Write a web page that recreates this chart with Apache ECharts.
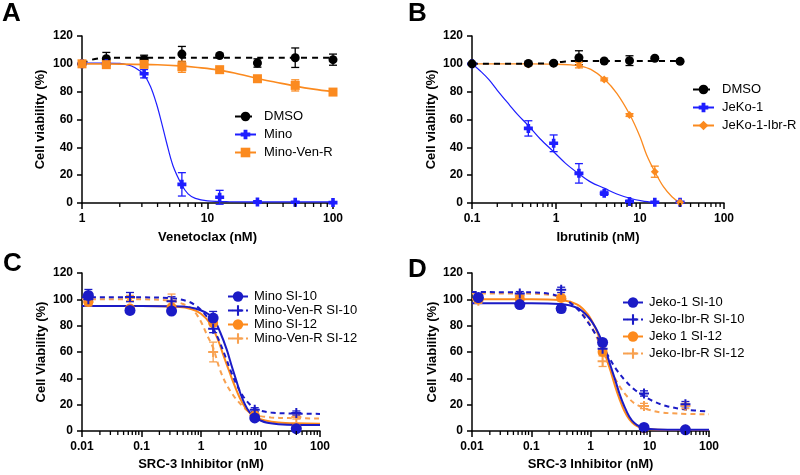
<!DOCTYPE html>
<html><head><meta charset="utf-8">
<script src="https://cdn.jsdelivr.net/npm/echarts@6/dist/echarts.min.js"></script>
<style>html,body{margin:0;padding:0;background:#fff}#c{width:800px;height:475px}</style>
</head><body><div id="c"></div>
<script>
const FONT = "'Liberation Sans', Arial, Helvetica, sans-serif";

// ---------- Panel A (Venetoclax) ----------
const concA = [1, 1.5625, 3.125, 6.25, 12.5, 25, 50, 100];
const dmsoA = [100, 103.7, 103.2, 107.0, 106.0, 100.6, 104.4, 103.0];
const dmsoAErr = [0, 4.5, 3.0, 5.5, 1.0, 3.0, 7.0, 4.0];
const minoA = [100, 100, 92.9, 13.4, 4.1, 0.7, 0.5, 0.3];
const minoAErr = [0, 0, 3.0, 8.4, 5.0, 1.0, 0.5, 0.5];
const minoVenRA = [100, 99.4, 99.6, 97.9, 95.8, 89.3, 84.5, 79.7];
const minoVenRAErr = [0, 1.0, 1.0, 4.0, 1.5, 2.0, 4.0, 1.5];
const dmsoFitAx = [1, 1.1, 1.2, 1.35, 1.5, 2, 3, 5, 10, 20, 50, 100];
const dmsoFitAy = [100, 101.8, 103, 103.9, 104.2, 104.3, 104.3, 104.3, 104.3, 104.3, 104.3, 104.3];
const minoFitAx = [1, 1.5, 2, 2.3, 2.6, 3.1, 3.5, 3.9, 4.3, 4.7, 5.3, 6.2, 7, 8, 10, 15, 25, 100];
const minoFitAy = [100.5, 100.5, 100.3, 99.3, 97.6, 92.5, 84, 72, 58, 44, 27, 13.5, 6.5, 3.3, 1.5, 0.9, 0.8, 0.8];
const minoVenRFitAx = [1, 2, 4, 6, 8, 12.5, 18, 25, 35, 50, 70, 100];
const minoVenRFitAy = [100, 99.8, 99.3, 98.5, 97.5, 95.5, 92.5, 89.5, 86.8, 84, 81.8, 80];

// ---------- Panel B (Ibrutinib) ----------
const concB = [0.1, 0.46875, 0.9375, 1.875, 3.75, 7.5, 15, 30];
const dmsoB = [100, 100.3, 100.5, 104.4, 102.0, 102.3, 104.0, 101.8];
const dmsoBErr = [0, 1.0, 1.0, 5.0, 1.0, 3.5, 1.0, 1.0];
const jeko1B = [100, 53.6, 42.9, 21.3, 7.0, 1.0, 0.5, 0.5];
const jeko1BErr = [0, 5.5, 6.0, 7.0, 1.5, 1.0, 0.5, 0.5];
const jekoIbrRB = [100, 99.5, 100, 99.1, 88.8, 63.2, 22.5, 0.3];
const jekoIbrRBErr = [0, 1.0, 0.5, 2.0, 1.0, 1.0, 4.0, 0.5];
const dmsoFitBx = [0.1, 0.3, 0.6, 0.9, 1.1, 1.3, 1.6, 3, 6, 12, 30];
const dmsoFitBy = [100, 100, 100.2, 100.6, 101.2, 101.7, 102, 102, 102, 102, 102];
const jeko1FitBx = [0.1, 0.13, 0.16, 0.2, 0.28, 0.35, 0.47, 0.65, 0.93, 1.3, 1.84, 2.6, 3.8, 5.3, 7.6, 10.5, 15];
const jeko1FitBy = [100, 94, 88.4, 81, 70.4, 63.5, 55.5, 46, 37, 28.5, 21.3, 15, 10.5, 6.5, 3.4, 1.5, 0.3];
const jekoIbrRFitBx = [0.1, 0.5, 1, 1.5, 1.93, 2.6, 3.8, 5.3, 7.6, 10, 12, 15, 19, 24, 30];
const jekoIbrRFitBy = [100, 100, 99.7, 99.2, 98.5, 96, 88.8, 78.8, 63.2, 47.6, 34.5, 22.5, 11.7, 4.5, 0];

// ---------- Panel C (SRC-3 inhibitor, Mino) ----------
const concC = [0.0128, 0.064, 0.32, 1.6, 8, 40];
const minoSI10C = [103, 91.6, 91.1, 85.8, 9.9, 1.8];
const minoSI10CErr = [4.5, 1.5, 1.5, 5.0, 1.5, 1.0];
const minoVenRSI10C = [100, 101.7, 98.5, 77.7, 16.2, 13.7];
const minoVenRSI10CErr = [3.0, 3.5, 3.5, 3.0, 1.5, 1.5];
const minoSI12C = [98, 93, 94, 82, 11.9, 2.5];
const minoSI12CErr = [2.0, 1.0, 1.0, 2.0, 1.5, 1.0];
const minoVenRSI12C = [98, 101, 99, 60, 11.9, 10.6];
const minoVenRSI12CErr = [3.0, 2.0, 5.0, 7.5, 1.5, 1.5];
const minoSI10FitCx = [0.01, 0.1, 0.5, 0.8, 1.2, 1.6, 2.1, 2.7, 3.3, 4.0, 4.6, 5.5, 6.5, 8, 10, 13, 20, 40, 100];
const minoSI10FitCy = [95, 95, 94.5, 93, 90, 86, 75, 62, 49, 37, 28.5, 20, 14.5, 10.5, 8, 6.3, 5.2, 4.6, 4.5];
const minoVenRSI10FitCx = [0.01, 0.1, 0.3, 0.6, 0.86, 1.2, 1.6, 2, 2.6, 3.2, 4, 5, 6.5, 8, 10, 15, 30, 100];
const minoVenRSI10FitCy = [101.5, 101.5, 101, 98.5, 94.5, 88, 78, 69, 56, 45, 35, 27, 20.5, 17, 15.5, 14, 13.3, 13];
const minoSI12FitCx = [0.01, 0.1, 0.4, 0.7, 1, 1.4, 1.9, 2.4, 3, 3.7, 4.5, 5.5, 7, 9, 12, 20, 40, 100];
const minoSI12FitCy = [95, 95, 94.3, 92.5, 89, 82, 70, 57, 45, 34, 25, 18, 12.8, 9.8, 8, 6.5, 5.8, 5.5];
const minoVenRSI12FitCx = [0.01, 0.1, 0.3, 0.5, 0.7, 0.86, 1, 1.26, 1.6, 2.1, 2.7, 3.5, 4.2, 5.2, 6.5, 8, 10, 15, 30, 100];
const minoVenRSI12FitCy = [100, 100, 99, 96.5, 93, 88, 83, 73, 63, 46, 35, 27, 22.5, 18, 14.5, 12.5, 11.3, 10.3, 9.8, 9.5];

// ---------- Panel D (SRC-3 inhibitor, Jeko) ----------
const concD = [0.0128, 0.064, 0.32, 1.6, 8, 40];
const jeko1SI10D = [101.4, 96.0, 93.0, 67.3, 2.7, 0.9];
const jeko1SI10DErr = [2.0, 1.0, 3.0, 2.0, 1.0, 0.5];
const jekoIbrRSI10D = [101, 104.4, 107.2, 62.4, 28.5, 20.4];
const jekoIbrRSI10DErr = [2.0, 1.5, 2.0, 2.0, 2.0, 2.0];
const jeko1SI12D = [100, 100.5, 101, 60, 2.0, 1.0];
const jeko1SI12DErr = [2.0, 1.0, 2.0, 2.0, 1.0, 0.5];
const jekoIbrRSI12D = [99, 103, 102, 53, 19, 19];
const jekoIbrRSI12DErr = [2.0, 1.0, 3.0, 4.0, 2.0, 2.0];
const jeko1SI10FitDx = [0.01, 0.1, 0.3, 0.6, 0.9, 1.2, 1.5, 1.8, 2.2, 2.6, 3.1, 3.7, 4.5, 5.5, 7, 10, 20, 100];
const jeko1SI10FitDy = [97, 97, 96.5, 93.5, 87, 79, 70, 61, 49, 39, 28, 19, 11, 6, 3, 1.5, 1, 1];
const jekoIbrRSI10FitDx = [0.01, 0.1, 0.2, 0.3, 0.45, 0.65, 0.86, 1.2, 1.87, 2.8, 4, 5.5, 7.8, 11, 19, 40, 100];
const jekoIbrRSI10FitDy = [105.5, 105.3, 104.3, 102, 97.5, 91, 84, 74, 59, 46, 37.5, 31.5, 27, 23, 19, 16.3, 14.8];
const jeko1SI12FitDx = [0.01, 0.1, 0.3, 0.6, 0.9, 1.2, 1.5, 1.8, 2.2, 2.6, 3.1, 3.7, 4.5, 5.5, 7, 10, 20, 100];
const jeko1SI12FitDy = [100, 100, 99.5, 96, 88.5, 78.5, 67.5, 57, 45, 34, 24, 15.5, 9, 5, 2.5, 1.3, 0.8, 0.8];
const jekoIbrRSI12FitDx = [0.01, 0.1, 0.2, 0.35, 0.55, 0.8, 1.1, 1.5, 2, 2.6, 3.3, 4.2, 5.5, 7.5, 10, 15, 30, 100];
const jekoIbrRSI12FitDy = [104.5, 104.3, 103.5, 101, 95.5, 87, 77, 64, 51, 40, 32, 26, 21, 18, 16, 14.2, 13.2, 12.7];

// ---------- Axis tick labels ----------
const yTickLabels = ['0', '20', '40', '60', '80', '100', '120'];
const xTickLabelsA = ['1', '10', '100'];
const xTickLabelsB = ['0.1', '1', '10', '100'];
const xTickLabelsCD = ['0.01', '0.1', '1', '10', '100'];

// ---------- styling ----------
const BLACK = '#000000';
const BLUE1 = '#1e1eff';
const ORANGE1 = '#fb8a1f';
const BLUE2 = '#1b1bc6';
const ORANGE2 = '#fd8a1c';
const ORANGE2L = '#f8a150';
const PLUS_THICK = 'path://M3,0H7V3H10V7H7V10H3V7H0V3H3Z';
const PLUS_THIN = 'path://M4,0H6V4H10V6H6V10H4V6H0V4H4Z';

function errRender(color, capW, lw) {
  return function (params, api) {
    const x = api.value(0);
    const a = api.coord([x, api.value(1)]);
    const b = api.coord([x, api.value(2)]);
    const h = capW / 2;
    const st = { stroke: color, lineWidth: lw };
    return { type: 'group', children: [
      { type: 'line', shape: { x1: a[0], y1: a[1], x2: b[0], y2: b[1] }, style: st },
      { type: 'line', shape: { x1: a[0] - h, y1: a[1], x2: a[0] + h, y2: a[1] }, style: st },
      { type: 'line', shape: { x1: b[0] - h, y1: b[1], x2: b[0] + h, y2: b[1] }, style: st }
    ] };
  };
}

function grp(gi, name, conc, vals, err, fx, fy, st) {
  const lineS = {
    type: 'line', name, xAxisIndex: gi, yAxisIndex: gi,
    data: fx.map((x, i) => [x, fy[i]]),
    smooth: 0.35, showSymbol: false, symbol: st.symbol, symbolSize: st.size,
    itemStyle: { color: st.color },
    lineStyle: { color: st.lineColor || st.color, width: st.lw, type: st.dash || 'solid' },
    z: 2, silent: true
  };
  const errData = [];
  conc.forEach((x, i) => { if (err[i] > 0) errData.push([x, vals[i] - err[i], vals[i] + err[i]]); });
  const errS = {
    type: 'custom', name, xAxisIndex: gi, yAxisIndex: gi, data: errData,
    renderItem: errRender(st.color, st.cap || 8, 1.3), encode: { x: 0, y: [1, 2] },
    z: 3, clip: false, silent: true
  };
  const ptS = {
    type: 'scatter', name, xAxisIndex: gi, yAxisIndex: gi,
    data: conc.map((x, i) => [x, vals[i]]),
    symbol: st.symbol, symbolSize: st.size, itemStyle: { color: st.color, opacity: 1 },
    z: 3, silent: true
  };
  return [lineS, errS, ptS];
}

function minorTicks(gi, lo, hi) {
  const vals = [];
  for (let d = lo; d < hi; d *= 10) for (let k = 2; k <= 9; k++) vals.push(+(d * k).toPrecision(6));
  return {
    type: 'custom', xAxisIndex: gi, yAxisIndex: gi, data: vals.map(v => [v, 0]),
    encode: { x: 0, y: 1 }, clip: false, silent: true, z: 6,
    renderItem: (p, api) => {
      const c = api.coord([api.value(0), 0]);
      return { type: 'line', shape: { x1: c[0], y1: c[1], x2: c[0], y2: c[1] + 4 }, style: { stroke: '#000', lineWidth: 1.3 } };
    }
  };
}

const nameStyle = { fontFamily: FONT, fontWeight: 'bold', fontSize: 13, color: '#000' };
const labStyle = { fontFamily: FONT, fontWeight: 'bold', fontSize: 12, color: '#000' };
const axLine = { show: true, lineStyle: { color: '#000', width: 1.5 } };

function xAx(gi, min, max, labels, name, gap) {
  return {
    type: 'log', logBase: 10, gridIndex: gi, min, max, name, nameLocation: 'middle', nameGap: gap,
    nameTextStyle: nameStyle, axisLine: axLine,
    axisTick: { show: true, length: 6, lineStyle: { color: '#000', width: 1.5 } },
    axisLabel: Object.assign({ margin: 10, formatter: v => { const i = Math.round(Math.log10(v / min)); return labels[i] !== undefined ? labels[i] : ''; } }, labStyle),
    splitLine: { show: false }
  };
}
function yAx(gi, name, gap) {
  return {
    type: 'value', gridIndex: gi, min: 0, max: 120, interval: 20, name, nameLocation: 'middle', nameGap: gap,
    nameTextStyle: nameStyle, axisLine: axLine,
    axisTick: { show: true, length: 5, lineStyle: { color: '#000', width: 1.5 } },
    axisLabel: Object.assign({ margin: 9, formatter: v => yTickLabels[Math.round(v / 20)] }, labStyle),
    splitLine: { show: false }
  };
}
function leg(names, left, top, gap, iw, ih, pad) {
  return {
    orient: 'vertical', left, top, itemGap: gap, itemWidth: iw, itemHeight: ih, padding: 0,
    data: names, selectedMode: false,
    textStyle: { fontFamily: FONT, fontSize: 13, color: '#000', padding: [0, 0, 0, pad] }
  };
}

const series = [].concat(
  // A
  grp(0, 'DMSO', concA, dmsoA, dmsoAErr, dmsoFitAx, dmsoFitAy, { color: BLACK, symbol: 'circle', size: 9, lw: 2, dash: [6, 5] }),
  grp(0, 'Mino', concA, minoA, minoAErr, minoFitAx, minoFitAy, { color: BLUE1, symbol: PLUS_THICK, size: 9, lw: 1.2 }),
  grp(0, 'Mino-Ven-R', concA, minoVenRA, minoVenRAErr, minoVenRFitAx, minoVenRFitAy, { color: ORANGE1, symbol: 'rect', size: 9, lw: 1.6 }),
  // B
  grp(1, 'JeKo-1', concB, jeko1B, jeko1BErr, jeko1FitBx, jeko1FitBy, { color: BLUE1, symbol: PLUS_THICK, size: 9, lw: 1.2 }),
  grp(1, 'JeKo-1-Ibr-R', concB, jekoIbrRB, jekoIbrRBErr, jekoIbrRFitBx, jekoIbrRFitBy, { color: ORANGE1, symbol: 'diamond', size: 8, lw: 1.3 }),
  grp(1, 'DMSO', concB, dmsoB, dmsoBErr, dmsoFitBx, dmsoFitBy, { color: BLACK, symbol: 'circle', size: 9, lw: 2, dash: [6, 5] }),
  // C (drawn so that SI-10 ends on top)
  grp(2, 'Mino-Ven-R SI-12', concC, minoVenRSI12C, minoVenRSI12CErr, minoVenRSI12FitCx, minoVenRSI12FitCy, { color: ORANGE2L, symbol: PLUS_THIN, size: 10, lw: 2, dash: [5, 4] }),
  grp(2, 'Mino SI-12', concC, minoSI12C, minoSI12CErr, minoSI12FitCx, minoSI12FitCy, { color: ORANGE2, symbol: 'circle', size: 10, lw: 2 }),
  grp(2, 'Mino-Ven-R SI-10', concC, minoVenRSI10C, minoVenRSI10CErr, minoVenRSI10FitCx, minoVenRSI10FitCy, { color: BLUE2, symbol: PLUS_THIN, size: 10, lw: 2, dash: [5, 4] }),
  grp(2, 'Mino SI-10', concC, minoSI10C, minoSI10CErr, minoSI10FitCx, minoSI10FitCy, { color: BLUE2, symbol: 'circle', size: 11, lw: 2 }),
  // D
  grp(3, 'Jeko-Ibr-R SI-12', concD, jekoIbrRSI12D, jekoIbrRSI12DErr, jekoIbrRSI12FitDx, jekoIbrRSI12FitDy, { color: ORANGE2L, symbol: PLUS_THIN, size: 10, lw: 2, dash: [5, 4] }),
  grp(3, 'Jeko 1 SI-12', concD, jeko1SI12D, jeko1SI12DErr, jeko1SI12FitDx, jeko1SI12FitDy, { color: ORANGE2, symbol: 'circle', size: 10, lw: 2 }),
  grp(3, 'Jeko-Ibr-R SI-10', concD, jekoIbrRSI10D, jekoIbrRSI10DErr, jekoIbrRSI10FitDx, jekoIbrRSI10FitDy, { color: BLUE2, symbol: PLUS_THIN, size: 10, lw: 2, dash: [5, 4] }),
  grp(3, 'Jeko-1 SI-10', concD, jeko1SI10D, jeko1SI10DErr, jeko1SI10FitDx, jeko1SI10FitDy, { color: BLUE2, symbol: 'circle', size: 11, lw: 2 }),
  [minorTicks(0, 1, 100), minorTicks(1, 0.1, 100), minorTicks(2, 0.01, 100), minorTicks(3, 0.01, 100)]
);

const letter = (t, x, y) => ({ type: 'text', x, y, style: { text: t, fill: '#000', font: 'bold 26px ' + FONT, textVerticalAlign: 'middle' } });

const option = {
  animation: false,
  backgroundColor: '#ffffff',
  grid: [
    { left: 82, top: 36, width: 251, height: 167 },
    { left: 472, top: 36, width: 252, height: 167 },
    { left: 82, top: 273, width: 238, height: 158 },
    { left: 472, top: 273, width: 237, height: 158 }
  ],
  xAxis: [
    xAx(0, 1, 100, xTickLabelsA, 'Venetoclax (nM)', 28),
    xAx(1, 0.1, 100, xTickLabelsB, 'Ibrutinib (nM)', 28),
    xAx(2, 0.01, 100, xTickLabelsCD, 'SRC-3 Inhibitor (nM)', 27),
    xAx(3, 0.01, 100, xTickLabelsCD, 'SRC-3 Inhibitor (nM)', 27)
  ],
  yAxis: [
    yAx(0, 'Cell viability (%)', 35),
    yAx(1, 'Cell viability (%)', 34),
    yAx(2, 'Cell Viability (%)', 34),
    yAx(3, 'Cell Viability (%)', 33)
  ],
  legend: [
    leg(['DMSO', 'Mino', 'Mino-Ven-R'], 234, 110, 5, 21, 12, 3),
    leg(['DMSO', 'JeKo-1', 'JeKo-1-Ibr-R'], 692, 83, 5, 21, 12, 3),
    leg(['Mino SI-10', 'Mino-Ven-R SI-10', 'Mino SI-12', 'Mino-Ven-R SI-12'], 227, 290, 1, 20, 13, 1),
    leg(['Jeko-1 SI-10', 'Jeko-Ibr-R SI-10', 'Jeko 1 SI-12', 'Jeko-Ibr-R SI-12'], 622, 296, 4, 20, 13, 1)
  ],
  graphic: [letter('A', 2, 14), letter('B', 408, 14), letter('C', 3, 264), letter('D', 408, 270)],
  series
};

const chart = echarts.init(document.getElementById('c'), null, { renderer: 'canvas' });
chart.setOption(option);
</script>
</body></html>
